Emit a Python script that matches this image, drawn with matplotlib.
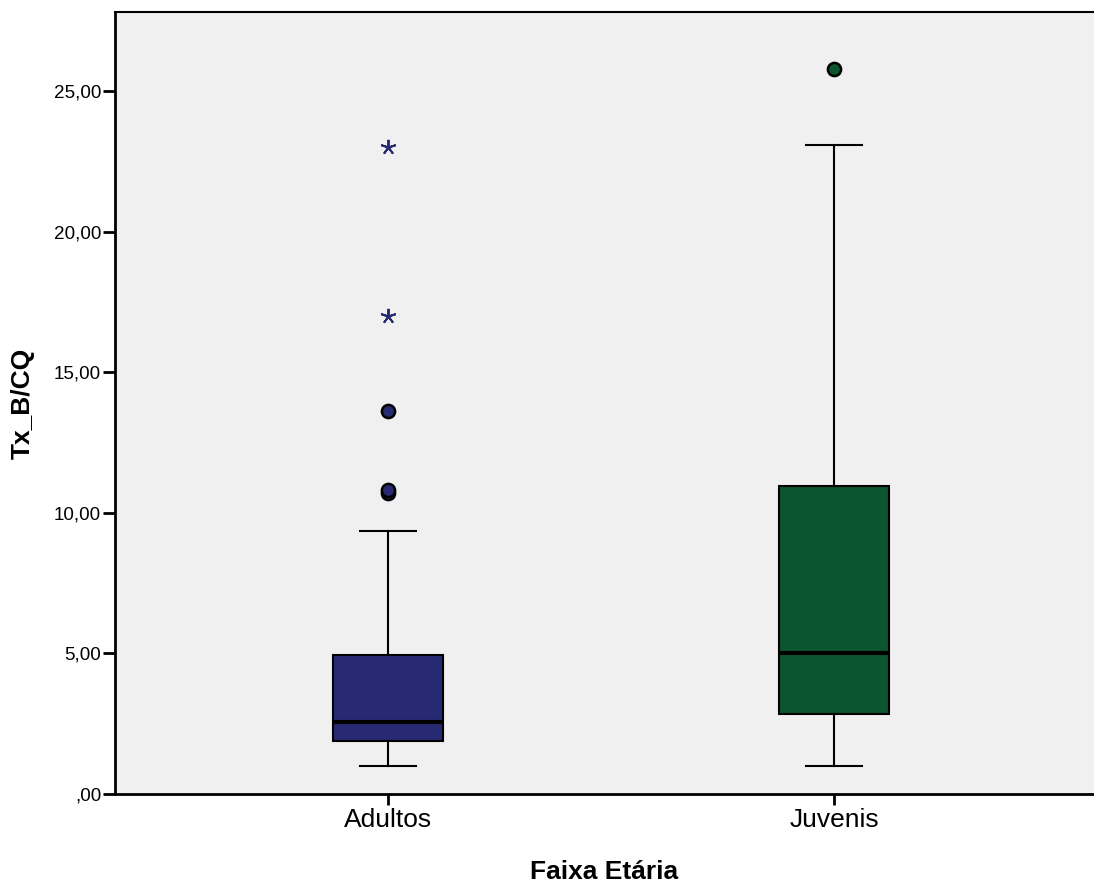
import matplotlib.pyplot as plt
from matplotlib.ticker import FuncFormatter

plt.rcParams['font.family'] = ['Liberation Sans', 'DejaVu Sans']

# Box stats (Tx_B/CQ by age group)
groups = ['Adultos', 'Juvenis']
whislo = [1.0, 1.0]
q1 = [1.88, 2.84]
med = [2.55, 5.01]
q3 = [4.94, 10.97]
whishi = [9.35, 23.08]
outliers = [[10.7, 10.8, 13.62], [25.78]]   # circles
extremes = [[17.0, 23.0], []]               # asterisks
colors = ['#272A73', '#0B552F']

fig = plt.figure(figsize=(10.94, 8.84), dpi=100)
ax = fig.add_axes([0.1051, 0.1018, 0.8949, 0.8846])
ax.set_facecolor('#F0F0F0')

stats = []
for i, g in enumerate(groups):
    stats.append(dict(label=g, whislo=whislo[i], q1=q1[i], med=med[i],
                      q3=q3[i], whishi=whishi[i], fliers=[]))
bp = ax.bxp(stats, positions=[1, 2], widths=0.247, patch_artist=True,
            showfliers=False,
            boxprops=dict(edgecolor='black', linewidth=1.5),
            medianprops=dict(color='black', linewidth=3),
            whiskerprops=dict(color='black', linewidth=1.5),
            capprops=dict(color='black', linewidth=1.5), capwidths=0.126)
for patch, c in zip(bp['boxes'], colors):
    patch.set_facecolor(c)

for i, c in enumerate(colors):
    if outliers[i]:
        ax.plot([i + 1] * len(outliers[i]), outliers[i], 'o', color=c,
                markeredgecolor='black', markeredgewidth=1.8, markersize=9.5)
    if extremes[i]:
        ax.plot([i + 1] * len(extremes[i]), extremes[i], linestyle='none',
                marker=(5, 2, 0), color=c, markeredgecolor=c,
                markeredgewidth=1.4, markersize=11)

ax.set_xlim(0.388, 2.583)
ax.set_ylim(0, 27.81)
ax.set_yticks([0, 5, 10, 15, 20, 25])
ax.yaxis.set_major_formatter(FuncFormatter(
    lambda v, p: ',00' if v == 0 else f"{v:.2f}".replace('.', ',')))
ax.set_xticks([1, 2])
ax.set_xticklabels(groups)
ax.tick_params(axis='y', labelsize=13.6, length=9, width=2, pad=1)
ax.tick_params(axis='x', labelsize=19, length=8, width=2, pad=2)
ax.spines['right'].set_visible(False)
ax.spines['top'].set_linewidth(1.5)
ax.spines['bottom'].set_linewidth(2)
ax.spines['left'].set_linewidth(2)

ax.set_xlabel('Faixa Etária', fontsize=19, fontweight='bold', labelpad=20)
ax.set_ylabel('Tx_B/CQ', fontsize=19, fontweight='bold', labelpad=14)

fig.savefig('out.png', dpi=100)
